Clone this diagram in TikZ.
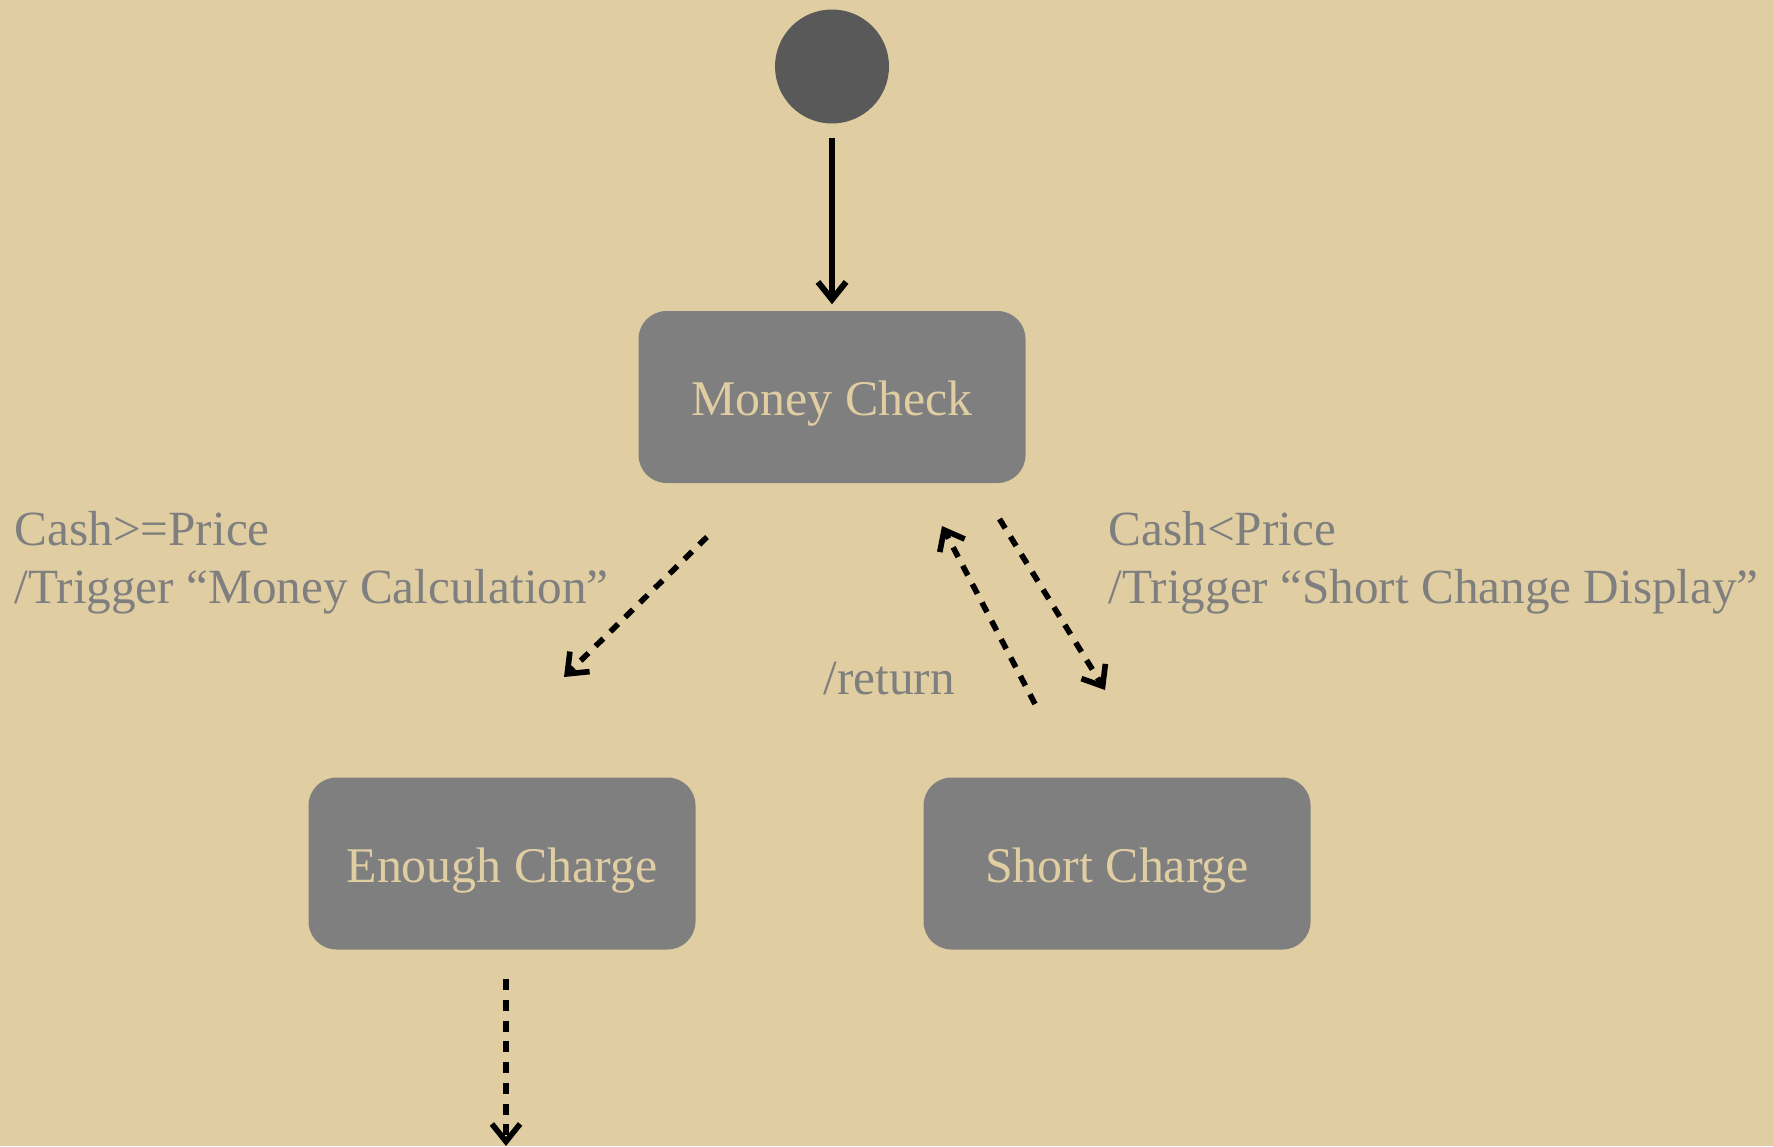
\documentclass[tikz,border=0pt]{standalone}
\usepackage{fontspec}
\setmainfont{Liberation Serif}
\usetikzlibrary{arrows.meta}
\definecolor{sand}{HTML}{E0CEA2}
\definecolor{stategray}{HTML}{7F7F7F}
\definecolor{startgray}{HTML}{595959}
\begin{document}
\begin{tikzpicture}[
	state/.style={fill=stategray, rounded corners=0.28cm, minimum width=3.87cm, minimum height=1.72cm, text=sand, text height=0.48cm, text depth=0.11cm, font=\fontsize{14.2}{16.5}\selectfont},
	guard/.style={text=stategray, align=left, anchor=base west, inner sep=0pt, font=\fontsize{14}{16.5}\selectfont},
	trans/.style={-{Straight Barb[length=5pt,width=8pt]}, line width=1.6pt, dash pattern=on 3.1pt off 2.8pt},
	init/.style={-{Straight Barb[length=5pt,width=8pt]}, line width=1.7pt},
	]
	\fill[sand] (0,0) rectangle (17.73,-11.46);
	\useasboundingbox (0,0) rectangle (17.73,-11.46);

	% Define start and states
	\node[circle, fill=startgray, minimum size=1.14cm, inner sep=0pt] (Start) at (8.32,-0.665) {};
	\node[state] (MoneyCheck) at (8.32,-3.97) {Money Check};
	\node[state] (EnoughCharge) at (5.02,-8.635) {Enough Charge};
	\node[state] (ShortCharge) at (11.17,-8.635) {Short Charge};
	\draw[init, shorten <=0.135cm, shorten >=0.06cm] (Start) -- (MoneyCheck);

	% Guards
	\node[guard] (GuardEnough) at (0.14,-6.03) {Cash>=Price\\/Trigger “Money Calculation”};
	\node[guard] (GuardShort) at (11.08,-6.03) {Cash<Price\\/Trigger “Short Change Display”};
	\node[guard] (GuardReturn) at (8.23,-6.94) {/return};

	% Free ends of the transitions
	\coordinate (EnoughFrom) at (7.07,-5.37);
	\coordinate (EnoughTo) at (5.64,-6.77);
	\coordinate (ShortFrom) at (9.995,-5.19);
	\coordinate (ShortTo) at (11.05,-6.90);
	\coordinate (ReturnFrom) at (10.35,-7.04);
	\coordinate (ReturnTo) at (9.42,-5.26);
	\coordinate (Exit) at (5.06,-11.46);
	\draw[trans] (EnoughFrom) -- (EnoughTo);
	\draw[trans] (ShortFrom) -- (ShortTo);
	\draw[trans] (ReturnFrom) -- (ReturnTo);
	\draw[trans, shorten <=0.29cm] (EnoughCharge.south -| Exit) -- (Exit);
\end{tikzpicture}
\end{document}
